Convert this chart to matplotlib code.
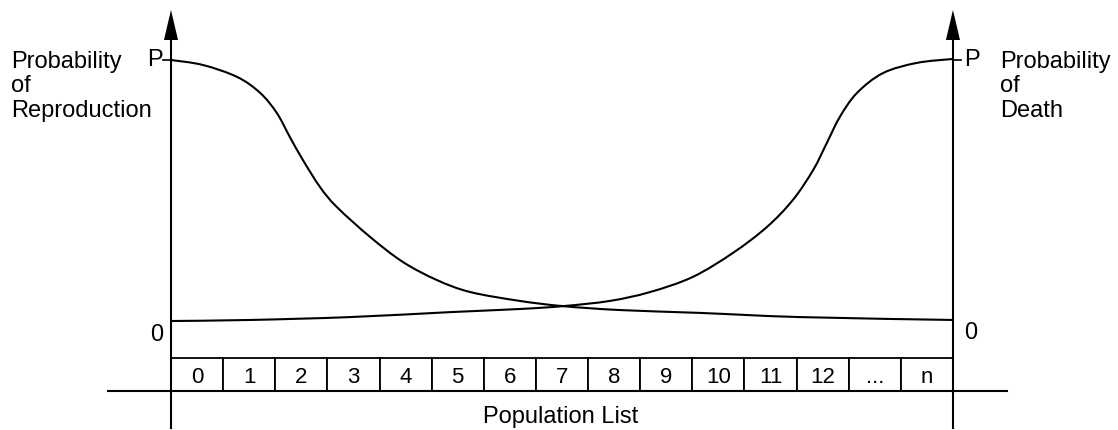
import matplotlib
matplotlib.use("Agg")
import matplotlib.pyplot as plt
from matplotlib.patches import Rectangle, Polygon, PathPatch
from matplotlib.path import Path

plt.rcParams['font.family'] = ['Liberation Sans', 'DejaVu Sans']

# ---- data ----
box_labels = ["0", "1", "2", "3", "4", "5", "6", "7", "8", "9", "10", "11", "12", "...", "n"]

# probability of reproduction vs. position in population list (box units)
repro_x = [0.0, 0.61, 1.27, 1.71, 2.03, 2.28, 2.53, 2.86, 3.18, 3.82, 4.45, 5.10,
           5.74, 6.69, 7.52, 8.61, 10.15, 12.07, 15.0]
repro_y = [1.0, 0.981, 0.935, 0.874, 0.797, 0.705, 0.617, 0.513, 0.437, 0.322, 0.226,
           0.157, 0.111, 0.077, 0.057, 0.042, 0.031, 0.015, 0.004]

# probability of death vs. position in population list
death_x = [0.0, 1.52, 3.43, 5.35, 6.69, 7.52, 8.42, 9.19, 10.01, 10.78, 11.43, 11.93,
           12.32, 12.58, 12.83, 13.16, 13.66, 14.31, 15.0]
death_y = [0.0, 0.004, 0.015, 0.034, 0.046, 0.057, 0.077, 0.111, 0.169, 0.261, 0.360,
           0.464, 0.579, 0.682, 0.782, 0.874, 0.950, 0.989, 1.004]

left_label = ["Probability", "of", "Reproduction"]
right_label = ["Probability", "of", "Death"]
x_title = "Population List"


def smooth_path(xs, ys):
    """Cubic Bezier path through the given points (Catmull-Rom tangents)."""
    pts = list(zip(xs, ys))
    m = len(pts)
    verts = [pts[0]]
    codes = [Path.MOVETO]
    for i in range(m - 1):
        p0 = pts[i - 1] if i > 0 else pts[i]
        p1 = pts[i]
        p2 = pts[i + 1]
        p3 = pts[i + 2] if i + 2 < m else pts[i + 1]
        c1 = (p1[0] + (p2[0] - p0[0]) / 6.0, p1[1] + (p2[1] - p0[1]) / 6.0)
        c2 = (p2[0] - (p3[0] - p1[0]) / 6.0, p2[1] - (p3[1] - p1[1]) / 6.0)
        verts += [c1, c2, p2]
        codes += [Path.CURVE4, Path.CURVE4, Path.CURVE4]
    return Path(verts, codes)


# ---- figure ----
fig = plt.figure(figsize=(11.18, 4.30), dpi=100)
ax = fig.add_axes([0, 0, 1, 1])
ax.set_xlim(-3.280, 18.166)
ax.set_ylim(-0.4176, 1.2299)
ax.axis("off")

lw = 1.5
n = len(box_labels)
fs = 17

# curves
for xs, ys in ((repro_x, repro_y), (death_x, death_y)):
    ax.add_patch(PathPatch(smooth_path(xs, ys), facecolor="none", edgecolor="black",
                           lw=lw, capstyle="round", joinstyle="round"))

# vertical axes with arrows
axis_bottom = -0.410
arrow_base = 1.0766
arrow_tip = 1.1916
half_w = 0.135
for xa in (0, n):
    ax.plot([xa, xa], [axis_bottom, arrow_base], color="black", lw=lw)
    ax.add_patch(Polygon([[xa - half_w, arrow_base], [xa + half_w, arrow_base], [xa, arrow_tip]],
                         closed=True, color="black", lw=0))

# P ticks
ax.plot([-0.153, 0], [1.0, 1.0], color="black", lw=1.2)
ax.plot([n, n + 0.15], [1.0, 1.0], color="black", lw=1.2)

# axis level labels
ax.text(-0.31, 1.0, "P", fontsize=fs, ha="center", va="center")
ax.text(n + 0.36, 1.0, "P", fontsize=fs, ha="center", va="center")
ax.text(-0.27, -0.0536, "0", fontsize=fs, ha="center", va="center")
ax.text(n + 0.34, -0.046, "0", fontsize=fs, ha="center", va="center")

# side labels
baselines = [0.969, 0.877, 0.782]
for t, yb in zip(left_label, baselines):
    ax.text(-3.06, yb, t, fontsize=fs, ha="left", va="baseline")
for t, yb in zip(right_label, baselines):
    ax.text(15.90, yb, t, fontsize=fs, ha="left", va="baseline")

# population list boxes
box_top = -0.1418
box_bot = -0.268
for i, lab in enumerate(box_labels):
    ax.add_patch(Rectangle((i, box_bot), 1, box_top - box_bot, facecolor="white",
                           edgecolor="black", lw=1.3))
    ax.text(i + 0.5, -0.2375, lab, fontsize=fs - 1, ha="center", va="baseline")

# base line
ax.plot([-1.209, 16.04], [box_bot, box_bot], color="black", lw=lw)

ax.text(7.48, -0.391, x_title, fontsize=fs, ha="center", va="baseline")

fig.savefig("out.png", dpi=100)
